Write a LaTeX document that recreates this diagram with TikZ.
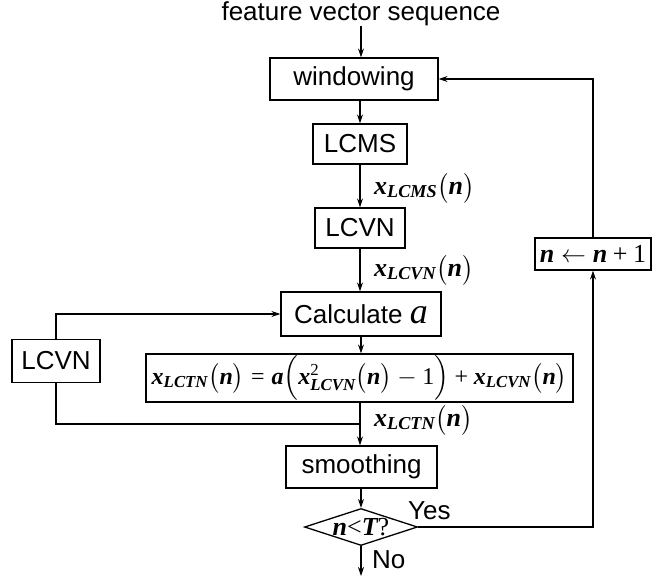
\documentclass[tikz,border=0pt]{standalone}
\usepackage{amsmath}
\usepackage{fontspec}
\setmainfont{Liberation Sans}
\newfontfamily\tms{Liberation Serif}
\newcommand{\mv}[1]{\text{\tms\itshape\bfseries #1}}
\newcommand{\mr}[1]{\text{\tms #1}}
\usetikzlibrary{shapes.geometric,arrows.meta}
\begin{document}
\begin{tikzpicture}[x=1pt,y=-1pt,
  box/.style={draw,line width=1.3pt,inner sep=0pt,align=center,font=\fontsize{26}{30}\selectfont},
  lbl/.style={inner sep=0pt,font=\fontsize{26}{30}\selectfont},
  conn/.style={line width=1.1pt},
  arr/.style={line width=1.1pt,-{Stealth[length=9pt,width=6pt]}}]
\useasboundingbox (0,0) rectangle (653,576);
\node[lbl] (title) at (361,14) {feature vector sequence};
\node[box,minimum width=168pt,minimum height=42pt] (win) at (354,79) {windowing};
\node[box,minimum width=94pt,minimum height=40pt] (lcms) at (360,144) {LCMS};
\node[box,minimum width=90pt,minimum height=40pt] (lcvn) at (360,228) {LCVN};
\node[box,minimum width=160pt,minimum height=44pt] (calc) at (361,314) {Calculate {\tms\itshape\fontsize{36}{36}\selectfont a}};
\node[box,minimum width=88pt,minimum height=43pt] (lcvnb) at (56,361) {LCVN};
\node[box,minimum width=427pt,minimum height=48pt,font=\fontsize{24}{28}\selectfont] (form) at (359.5,378)
  {$\mv{x}_{\mv{LCTN}}\bigl(\mv{n}\bigr)\mathrel{\mr{=}}\mv{a}\Bigl(\mv{x}^{\mr{2}}_{\mv{LCVN}}\bigl(\mv{n}\bigr)\mathbin{-}\mr{1}\Bigr)\mathbin{\mr{+}}\mv{x}_{\mv{LCVN}}\bigl(\mv{n}\bigr)$};
\node[box,minimum width=151pt,minimum height=42pt] (smooth) at (361.5,467) {smoothing};
\node[draw,diamond,line width=1.3pt,minimum width=113pt,minimum height=37pt,inner sep=0pt] (dia) at (361,527) {};
\node[lbl] (cond) at (dia) {$\mv{n}\mr{<}\mv{T}\mr{?}$};
\node[box,minimum width=116pt,minimum height=32pt] (inc) at (593,254) {$\mv{n}\leftarrow\mv{n}\mathbin{\mr{+}}\mr{1}$};
\node[lbl,anchor=west] (l1) at (374,188) {$\mv{x}_{\mv{LCMS}}\bigl(\mv{n}\bigr)$};
\node[lbl,anchor=west] (l2) at (374,270) {$\mv{x}_{\mv{LCVN}}\bigl(\mv{n}\bigr)$};
\node[lbl,anchor=west] (l3) at (374,420) {$\mv{x}_{\mv{LCTN}}\bigl(\mv{n}\bigr)$};
\node[lbl,anchor=west] (yes) at (408,511) {Yes};
\node[lbl,anchor=west] (no) at (372,560) {No};
\coordinate (j) at (360,424);
\coordinate (out) at (361,576);
\draw[arr] (title.south) -- (title.south |- win.north);
\draw[arr] (lcms |- win.south) -- (lcms.north);
\draw[arr] (lcms.south) -- (lcvn.north);
\draw[arr] (lcvn.south) -- (lcvn.south |- calc.north);
\draw[arr] (calc.south) -- (calc.south |- form.north);
\draw[conn] (j |- form.south) -- (j);
\draw[arr] (j) -- (j |- smooth.north);
\draw[arr] (lcvnb.north) |- (calc.west);
\draw[conn] (lcvnb.south) |- (j);
\draw[arr] (dia |- smooth.south) -- (dia.north);
\draw[arr] (dia.south) -- (out);
\draw[arr] (dia.east) -| (inc.south);
\draw[arr] (inc.north) |- (win.east);
\end{tikzpicture}
\end{document}
